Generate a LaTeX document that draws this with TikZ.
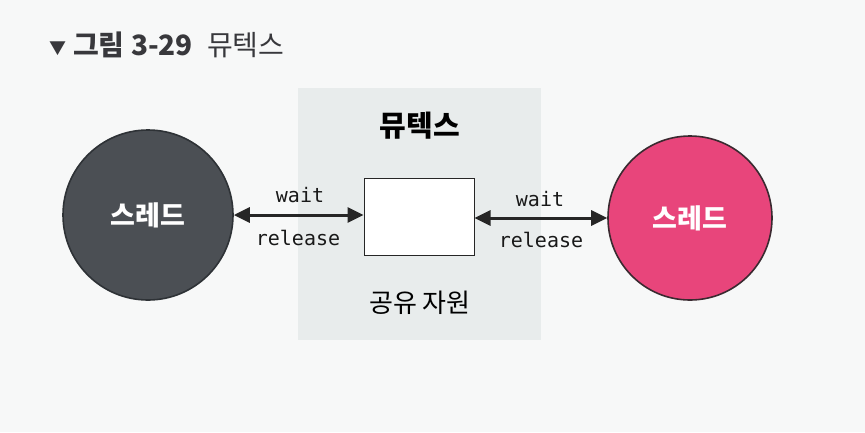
\documentclass[tikz,border=0pt]{standalone}
\usepackage{fontspec}
\setmainfont{Noto Sans CJK KR}
\newfontfamily\monof{DejaVu Sans Mono}
\usetikzlibrary{arrows.meta}
\definecolor{bgc}{HTML}{F7F8F8}
\definecolor{boxc}{HTML}{E8ECEC}
\definecolor{darkc}{HTML}{4B4F54}
\definecolor{darkb}{HTML}{2E3236}
\definecolor{pinkc}{HTML}{E8457B}
\definecolor{pinkb}{HTML}{3A2A30}
\definecolor{titlec}{HTML}{38383C}
\begin{document}
\begin{tikzpicture}[x=1pt,y=-1pt,
  thread/.style={circle,draw,line width=1.6pt,text=white,font=\fontsize{27}{30}\selectfont\bfseries},
  lbl/.style={font=\monof\fontsize{20}{24}\selectfont,text=black!90},
  conn/.style={{Triangle[length=16pt,width=15pt]}-{Triangle[length=16pt,width=15pt]},line width=3pt,black!85}]
\useasboundingbox (0,0) rectangle (865,432);
\fill[bgc] (0,0) rectangle (865,432);
\node[anchor=west,text=titlec,font=\fontsize{28}{32}\selectfont,inner sep=0pt] (title) at (49,45)
  {\textbf{\fontsize{17}{20}\selectfont\raisebox{1pt}{▼}}\hspace{7pt}\textbf{그림 3-29}\hspace{14pt}뮤텍스};
\node[fill=boxc,minimum width=243pt,minimum height=252pt,inner sep=0pt] (mutex) at (419.5,214) {};
\node[font=\fontsize{29}{32}\selectfont\bfseries] (mtitle) at (420,126) {뮤텍스};
\node[draw=black!85,fill=white,line width=1pt,minimum width=110pt,minimum height=77pt,inner sep=0pt] (res) at (419,216.5) {};
\node[font=\fontsize{26}{30}\selectfont] (rlabel) at (420,303) {공유 자원};
\node[thread,fill=darkc,draw=darkb,minimum size=170pt] (t1) at (148,215) {스레드};
\node[thread,fill=pinkc,draw=pinkb,minimum size=164pt] (t2) at (690,218) {스레드};
\draw[conn] (t1.east) -- (res.west |- t1.east);
\draw[conn] (res.east |- t2.west) -- (t2.west);
\node[lbl] (w1) at (300,195) {wait};
\node[lbl] (r1) at (298,238) {release};
\node[lbl] (w2) at (540,199) {wait};
\node[lbl] (r2) at (541,240) {release};
\end{tikzpicture}
\end{document}
